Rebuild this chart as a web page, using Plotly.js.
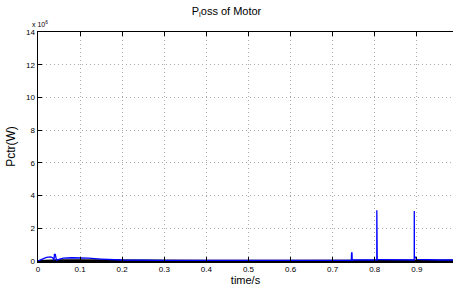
<!DOCTYPE html>
<html><head><meta charset="utf-8">
<script src="https://cdn.plot.ly/plotly-3.0.1.min.js"></script>
<style>html,body{margin:0;padding:0;background:#fff;}#chart{width:453px;height:287px;}</style>
</head><body><div id="chart"></div>
<script>
// values in units of 1e6 W
const timeBlue = [0, 0.01, 0.02, 0.03, 0.035, 0.038, 0.039, 0.041, 0.043, 0.044, 0.05, 0.06, 0.08, 0.1, 0.12, 0.15, 0.2, 0.3, 0.4, 0.5, 0.6, 0.7, 0.7445, 0.745, 0.746, 0.7465, 0.75, 0.8, 0.8049, 0.805, 0.8052, 0.806, 0.81, 0.85, 0.8939, 0.894, 0.8942, 0.897, 0.9, 0.95, 0.986];
const powerBlue = [0, 0.12, 0.22, 0.25, 0.2, 0.05, 0.4, 0.4, 0.05, 0.05, 0.1, 0.18, 0.2, 0.2, 0.17, 0.12, 0.06, 0.04, 0.03, 0.03, 0.03, 0.04, 0.04, 0.5, 0.5, 0.05, 0.06, 0.06, 0.06, 3.1, 0.1, 0.08, 0.08, 0.06, 0.06, 3.05, 0.3, 0.2, 0.1, 0.06, 0.06];
const timeBlack = [0, 0.02, 0.05, 0.1, 0.2, 0.4, 0.6, 0.8, 0.9, 0.92, 0.95, 0.986];
const powerBlack = [0, 0.03, 0.04, 0.04, 0.02, 0.02, 0.02, 0.02, 0.03, 0.06, 0.05, 0.03];
const yTicks = [0, 2, 4, 6, 8, 10, 12, 14];
const xTicks = [0, 0.1, 0.2, 0.3, 0.4, 0.5, 0.6, 0.7, 0.8, 0.9];

const traces = [
  {x: timeBlack, y: powerBlack, mode: 'lines', line: {color: '#000', width: 2}, hoverinfo: 'skip'},
  {x: timeBlue, y: powerBlue, mode: 'lines', line: {color: '#0000ff', width: 1.3}, hoverinfo: 'skip'}
];
const layout = {
  width: 453, height: 287,
  margin: {l: 38, r: 0, t: 32, b: 26},
  paper_bgcolor: '#fff', plot_bgcolor: '#fff',
  showlegend: false,
  font: {family: 'Liberation Sans, Arial, sans-serif', color: '#000', size: 8},
  title: {text: 'P<sub>l</sub>oss of Motor', x: 0.5, xanchor: 'center', y: 0.975, yanchor: 'top', font: {size: 11, color: '#000'}},
  xaxis: {
    range: [0, 0.986], tickvals: xTicks, ticktext: xTicks.map(String),
    showgrid: true, gridcolor: '#aaa', griddash: '1px,3px', gridwidth: 1,
    showline: true, linecolor: '#000', linewidth: 1.5, mirror: 'ticks',
    ticks: 'inside', ticklen: 4, tickcolor: '#000', zeroline: false,
    tickfont: {size: 8},
    title: {text: 'time/s', font: {size: 11}, standoff: 2}
  },
  yaxis: {
    range: [0, 14], tickvals: yTicks, ticktext: yTicks.map(String),
    showgrid: true, gridcolor: '#aaa', griddash: '1px,3px', gridwidth: 1,
    showline: true, linecolor: '#000', linewidth: 1.5, mirror: false,
    ticks: 'inside', ticklen: 4, tickcolor: '#000', zeroline: false,
    tickfont: {size: 8},
    title: {text: 'Pctr(W)', font: {size: 12}, standoff: 8}
  },
  annotations: [{
    text: 'x 10<sup>6</sup>', xref: 'paper', yref: 'paper', x: 0, y: 1, xanchor: 'left', yanchor: 'bottom',
    xshift: -8, yshift: 2, showarrow: false, font: {size: 7, color: '#000'}
  }]
};
Plotly.newPlot('chart', traces, layout, {staticPlot: true, displayModeBar: false});
</script></body></html>
